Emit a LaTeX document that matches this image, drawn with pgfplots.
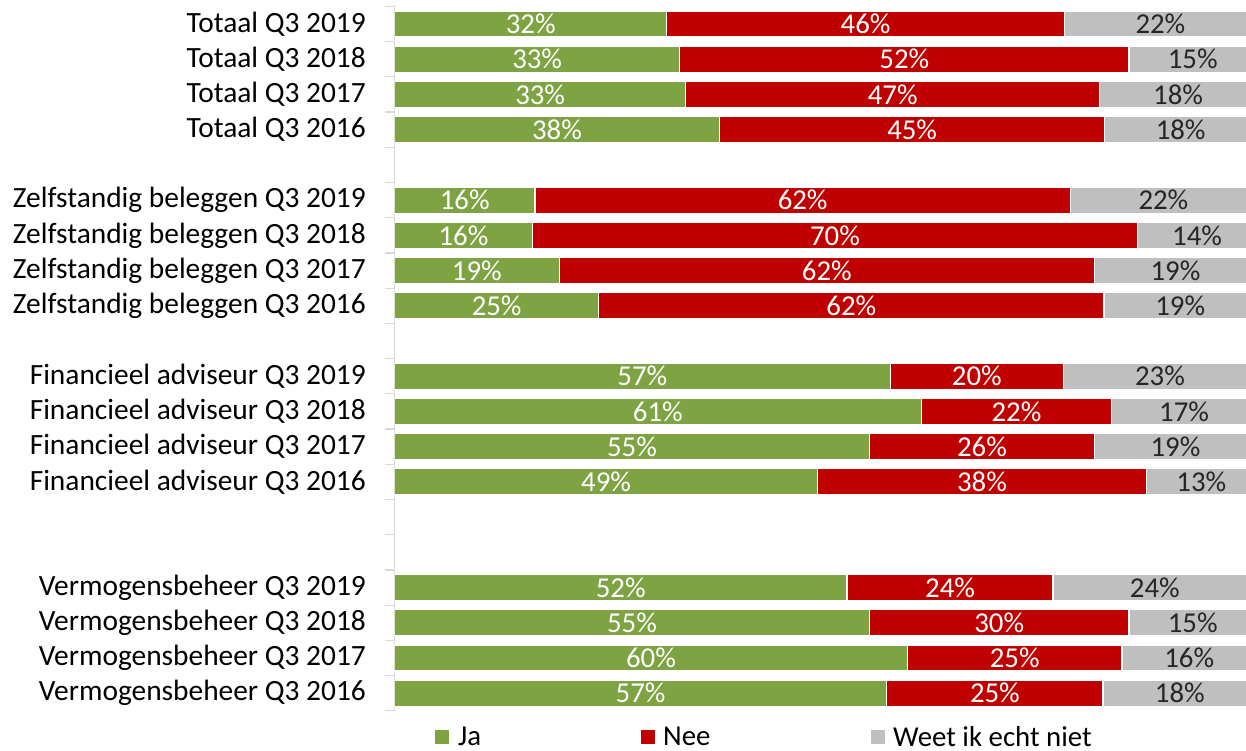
\documentclass[border=0pt]{standalone}
\usepackage{pgfplots}
\pgfplotsset{compat=1.18}
\usepackage{pgfplotstable}
\usepackage{fontspec}
\setmainfont{Carlito}
\definecolor{jagreen}{HTML}{7EA343}
\definecolor{neered}{HTML}{C00000}
\definecolor{weetgray}{HTML}{BFBFBF}
\definecolor{axisgray}{HTML}{D9D9D9}
\definecolor{labdark}{HTML}{262626}
\newcommand{\chartfont}{\fontsize{28.8}{34}\selectfont}
\newcommand{\tickfont}{\fontsize{29.4}{34}\selectfont}

\pgfplotstableread{
y  ja   nee  weet jl nl wl
0  31.6 46.1 22.3 32 46 22
1  33.1 52.1 14.8 33 52 15
2  33.8 48.0 18.2 33 47 18
3  37.7 44.7 17.6 38 45 18
5  16.3 62.1 21.6 16 62 22
6  16.0 70.2 13.8 16 70 14
7  19.1 62.1 18.8 19 62 19
8  23.7 58.6 17.7 25 62 19
10 57.5 20.1 22.4 57 20 23
11 61.1 22.1 16.8 61 22 17
12 55.1 26.1 18.8 55 26 19
13 49.1 38.1 12.8 49 38 13
16 52.5 23.9 23.6 52 24 24
17 55.1 30.1 14.8 55 30 15
18 59.5 24.9 15.6 60 25 16
19 57.1 25.1 17.8 57 25 18
}\data

\begin{document}
\begin{tikzpicture}
\begin{axis}[
  at={(0,0)}, anchor=south west,
  scale only axis, width=851.5pt, height=704.4pt,
  xmin=0, xmax=98.78, ymin=-0.5, ymax=19.5, y dir=reverse,
  axis x line=none, axis y line*=left,
  axis line style={axisgray, line width=1.2pt},
  ytick={0,1,2,3,5,6,7,8,10,11,12,13,16,17,18,19},
  yticklabels={Totaal Q3 2019,Totaal Q3 2018,Totaal Q3 2017,Totaal Q3 2016,
    Zelfstandig beleggen Q3 2019,Zelfstandig beleggen Q3 2018,Zelfstandig beleggen Q3 2017,Zelfstandig beleggen Q3 2016,
    Financieel adviseur Q3 2019,Financieel adviseur Q3 2018,Financieel adviseur Q3 2017,Financieel adviseur Q3 2016,
    Vermogensbeheer Q3 2019,Vermogensbeheer Q3 2018,Vermogensbeheer Q3 2017,Vermogensbeheer Q3 2016},
  minor ytick={-0.5,0.5,...,19.5},
  major tick length=0pt, minor tick length=9pt, tick align=outside,
  minor tick style={axisgray, line width=1.2pt},
  yticklabel style={font=\tickfont, text=black, inner sep=0pt, anchor=east, xshift=-28.5pt},
  legend columns=3,
  legend style={at={(axis cs:4.7,20.24)}, anchor=west, draw=none, fill=none,
    inner sep=0pt, column sep=0pt, font=\chartfont, nodes={inner sep=0pt}},
]
\addlegendimage{draw=none, legend image code/.code={\fill[jagreen, draw=none] (0pt,-7pt) rectangle (14pt,7pt); \path[draw=none, fill=none] (0pt,0pt) rectangle (23pt,0pt);}}
\addlegendentry{\makebox[183pt][l]{Ja}}
\addlegendimage{draw=none, legend image code/.code={\fill[neered, draw=none] (0pt,-7pt) rectangle (14pt,7pt); \path[draw=none, fill=none] (0pt,0pt) rectangle (22pt,0pt);}}
\addlegendentry{\makebox[208pt][l]{Nee}}
\addlegendimage{draw=none, legend image code/.code={\fill[weetgray, draw=none] (0pt,-7pt) rectangle (14pt,7pt); \path[draw=none, fill=none] (0pt,0pt) rectangle (22pt,0pt);}}
\addlegendentry{Weet ik echt niet}

\addplot[xbar, bar shift=0pt, bar width=0.74, fill=weetgray, draw=white, line width=1.2pt, forget plot]
  table[x expr=\thisrow{ja}+\thisrow{nee}+\thisrow{weet}, y=y] {\data};
\addplot[xbar, bar shift=0pt, bar width=0.74, fill=neered, draw=white, line width=1.2pt, forget plot]
  table[x expr=\thisrow{ja}+\thisrow{nee}, y=y] {\data};
\addplot[xbar, bar shift=0pt, bar width=0.74, fill=jagreen, draw=white, line width=1.2pt, forget plot]
  table[x=ja, y=y] {\data};

\addplot[draw=none, mark=none, forget plot, nodes near coords={\pgfplotspointmeta\%}, point meta=explicit symbolic,
  every node near coord/.append style={anchor=center, text=white, font=\chartfont, inner sep=0pt}]
  table[x expr=\thisrow{ja}/2, y=y, meta=jl] {\data};
\addplot[draw=none, mark=none, forget plot, nodes near coords={\pgfplotspointmeta\%}, point meta=explicit symbolic,
  every node near coord/.append style={anchor=center, text=white, font=\chartfont, inner sep=0pt}]
  table[x expr=\thisrow{ja}+\thisrow{nee}/2, y=y, meta=nl] {\data};
\addplot[draw=none, mark=none, forget plot, nodes near coords={\pgfplotspointmeta\%}, point meta=explicit symbolic,
  every node near coord/.append style={anchor=center, text=labdark, font=\chartfont, inner sep=0pt}]
  table[x expr=\thisrow{ja}+\thisrow{nee}+\thisrow{weet}/2, y=y, meta=wl] {\data};
\end{axis}
\pgfresetboundingbox
\path[use as bounding box] (-394.5pt,-39.2pt) rectangle (851.5pt,710.8pt);
\end{tikzpicture}
\end{document}
